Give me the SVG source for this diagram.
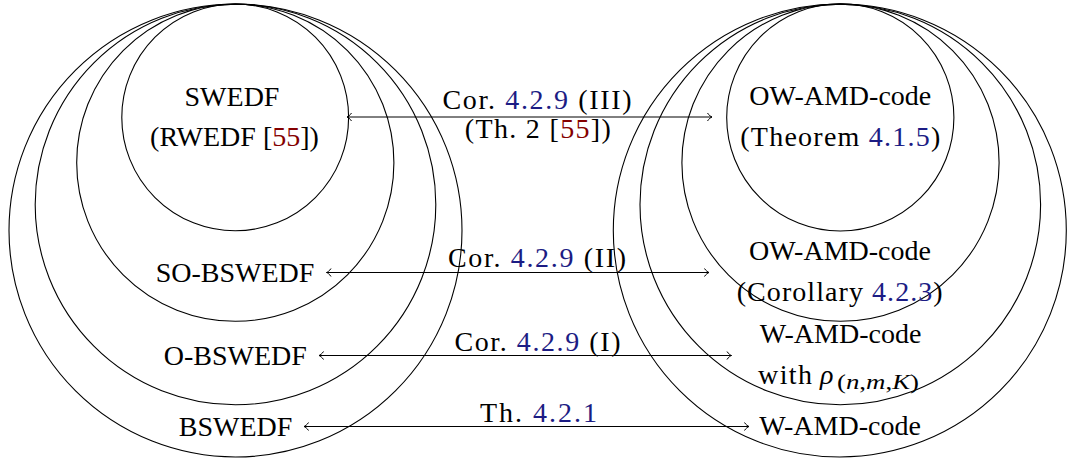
<svg xmlns="http://www.w3.org/2000/svg" width="1070" height="463" viewBox="0 0 1070 463">
<style>
  .set { fill: none; stroke: #000; stroke-width: 1.1; }
  text { font-family: "Liberation Serif", "Times New Roman", serif; font-size: 28px; fill: #000; }
  .c { text-anchor: middle; }
  .ref { fill: #1c1c84; }
  .cite { fill: #840000; }
  .conn { stroke: #000; stroke-width: 1; fill: none; marker-start: url(#arr); marker-end: url(#arr); }
  .it { font-style: italic; }
</style>
<defs>
  <marker id="arr" viewBox="-6 -5 7 10" markerWidth="7" markerHeight="10" refX="0" refY="0" orient="auto-start-reverse" markerUnits="userSpaceOnUse">
    <path d="M -4.5,-4 C -3,-1.6 -1.2,-0.5 0,0 C -1.2,0.5 -3,1.6 -4.5,4" fill="none" stroke="#000" stroke-width="1"/>
  </marker>
</defs>
<rect width="1070" height="463" fill="#fff"/>

<!-- left sets -->
<g id="bswedf">
  <circle class="set" cx="235.5" cy="230.5" r="226.5"/>
  <text class="c" x="235.5" y="436">BSWEDF</text>
</g>
<g id="o-bswedf">
  <circle class="set" cx="235.5" cy="204.5" r="200.3"/>
  <text class="c" x="235.3" y="365">O-BSWEDF</text>
</g>
<g id="so-bswedf">
  <circle class="set" cx="235.3" cy="162.7" r="158.6"/>
  <text class="c" x="235" y="281.5">SO-BSWEDF</text>
</g>
<g id="swedf">
  <circle class="set" cx="235.2" cy="117.4" r="113.4"/>
  <text class="c" x="232" y="106">SWEDF</text>
  <text class="c" x="234.5" y="146">(RWEDF [<tspan class="cite">55</tspan>])</text>
</g>

<!-- right sets -->
<g id="w-amd-code">
  <circle class="set" cx="839.8" cy="230.5" r="226.5"/>
  <text class="c" x="840" y="435">W-AMD-code</text>
</g>
<g id="w-amd-code-rho">
  <circle class="set" cx="840.3" cy="204.5" r="200.3"/>
  <text class="c" x="840.5" y="342.5">W-AMD-code</text>
  <text x="758" y="383.5" textLength="54">with</text>
  <text x="820" y="383.5" class="it">ρ</text>
  <text x="837" y="389" style="font-size:20px" textLength="82" lengthAdjust="spacingAndGlyphs">(<tspan class="it">n</tspan>,<tspan class="it">m</tspan>,<tspan class="it">K</tspan>)</text>
</g>
<g id="ow-amd-code-cor">
  <circle class="set" cx="840.5" cy="162.7" r="158.6"/>
  <text class="c" x="840" y="260">OW-AMD-code</text>
  <text class="c" x="839.7" y="301" textLength="206">(Corollary <tspan class="ref">4.2.3</tspan>)</text>
</g>
<g id="ow-amd-code-thm">
  <circle class="set" cx="840.3" cy="117.4" r="113.6"/>
  <text class="c" x="840.3" y="105.3">OW-AMD-code</text>
  <text class="c" x="840.3" y="145.7" textLength="200">(Theorem <tspan class="ref">4.1.5</tspan>)</text>
</g>

<!-- connectors -->
<g id="connectors">
  <line class="conn" x1="347" y1="117" x2="712" y2="117"/>
  <text class="c" x="537" y="109.3" textLength="189">Cor. <tspan class="ref">4.2.9</tspan> (III)</text>
  <text class="c" x="537.8" y="138.3" textLength="146">(Th. 2 [<tspan class="cite">55</tspan>])</text>

  <line class="conn" x1="326.5" y1="272.5" x2="709" y2="272.5"/>
  <text class="c" x="537" y="267" textLength="178">Cor. <tspan class="ref">4.2.9</tspan> (II)</text>

  <line class="conn" x1="319" y1="355.5" x2="731.5" y2="355.5"/>
  <text class="c" x="537.5" y="350.7" textLength="166">Cor. <tspan class="ref">4.2.9</tspan> (I)</text>

  <line class="conn" x1="304" y1="426.5" x2="749" y2="426.5"/>
  <text class="c" x="538.5" y="421.7" textLength="117">Th. <tspan class="ref">4.2.1</tspan></text>
</g>
</svg>
